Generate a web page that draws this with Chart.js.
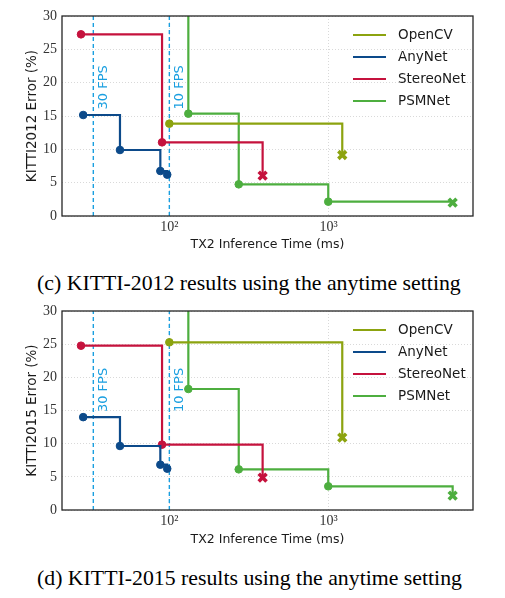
<!DOCTYPE html>
<html>
<head>
<meta charset="utf-8">
<script src="https://cdn.jsdelivr.net/npm/chart.js@4.4.0/dist/chart.umd.min.js"></script>
<style>
  body { margin: 0; width: 505px; height: 598px; background: #fff; position: relative; overflow: hidden; }
  .plot { position: absolute; left: 0; width: 505px; height: 255px; }
  .caption { position: absolute; left: 37px; font-family: "Liberation Serif", serif; font-size: 21.8px; line-height: 22px; color: #000; white-space: nowrap; }
</style>
</head>
<body>
<div class="plot" style="top:0"><canvas id="kitti2012"></canvas></div>
<div class="caption" style="top:272px">(c) KITTI-2012 results using the anytime setting</div>
<div class="plot" style="top:295px"><canvas id="kitti2015"></canvas></div>
<div class="caption" style="top:567px">(d) KITTI-2015 results using the anytime setting</div>
<script>
// Methods and colours (legend order)
const methods = ['OpenCV', 'AnyNet', 'StereoNet', 'PSMNet'];
const colors = ['#8ca30f', '#0c4a8a', '#c5123d', '#4dae3f'];

// TX2 inference time (ms) of every stage, same for both benchmarks
const opencvTime = [100, 1217];
const anynetTime = [28.8, 49, 87.8, 97];
const stereonetTime = [27.9, 90, 385];
const psmnetTime = [131.6, 131.6, 272.6, 994, 6000]; // first stage is above 30 %

// KITTI-2012 error (%)
const opencv2012 = [13.85, 9.15];
const anynet2012 = [15.15, 9.9, 6.75, 6.2];
const stereonet2012 = [27.25, 11.05, 6.05];
const psmnet2012 = [40, 15.35, 4.75, 2.15, 2.0];

// KITTI-2015 error (%)
const opencv2015 = [25.28, 10.9];
const anynet2015 = [14.0, 9.65, 6.83, 6.23];
const stereonet2015 = [24.77, 9.85, 4.87];
const psmnet2015 = [40, 18.24, 6.13, 3.57, 2.16];

// frame-rate reference lines
const fpsTime = [1000 / 30, 1000 / 10];
const fpsText = ['30 FPS', '10 FPS'];
const fpsColor = '#1a9fe0';

// axes
const xTicks = [100, 1000];
const xTickText = ['10²', '10³'];
const xMin = 21.2, xMax = 8050;
const yMin = 0, yMax = 30, yStep = 5;

const times = [opencvTime, anynetTime, stereonetTime, psmnetTime];
const lastIsCross = [true, false, true, true];

function methodDataset(i, errs) {
  const t = times[i];
  const n = t.length;
  const pts = t.map((x, k) => ({ x: x, y: errs[k] }));
  const cross = k => lastIsCross[i] && k === n - 1;
  return {
    label: methods[i],
    data: pts,
    stepped: 'before',
    borderColor: colors[i],
    backgroundColor: colors[i],
    borderWidth: 2.2,
    pointStyle: pts.map((p, k) => cross(k) ? 'crossRot' : 'circle'),
    pointRadius: pts.map((p, k) => p.y > yMax ? 0 : (cross(k) ? 5.5 : 3.8)),
    pointBorderWidth: pts.map((p, k) => cross(k) ? 3.6 : 1),
    pointBackgroundColor: colors[i],
    pointBorderColor: colors[i],
    clip: 0,
    order: 1
  };
}

function fpsDataset(j) {
  return {
    label: fpsText[j],
    data: [{ x: fpsTime[j], y: yMin }, { x: fpsTime[j], y: yMax }],
    borderColor: fpsColor,
    borderWidth: 1.4,
    borderDash: [4, 3],
    pointRadius: 0,
    order: 5
  };
}

// box, legend and FPS labels
const decor = {
  id: 'decor',
  afterDatasetsDraw(chart) {
    const { ctx, scales: { x, y } } = chart;
    const labelY = chart.options.plugins.decor.fpsLabelY;
    ctx.save();
    ctx.fillStyle = fpsColor;
    ctx.font = '13px "DejaVu Sans"';
    ctx.textAlign = 'center';
    ctx.textBaseline = 'middle';
    fpsTime.forEach((t, j) => {
      ctx.save();
      ctx.translate(x.getPixelForValue(t) + 10, y.getPixelForValue(labelY));
      ctx.rotate(-Math.PI / 2);
      ctx.fillText(fpsText[j], 0, 0);
      ctx.restore();
    });
    ctx.restore();
  },
  afterDraw(chart) {
    const { ctx, chartArea: a } = chart;
    ctx.save();
    ctx.strokeStyle = '#262626';
    ctx.lineWidth = 1.3;
    ctx.strokeRect(a.left, a.top, a.right - a.left, a.bottom - a.top);
    ctx.font = '13.5px "DejaVu Sans"';
    ctx.textBaseline = 'middle';
    ctx.textAlign = 'left';
    methods.forEach((m, i) => {
      const ry = a.top + 19 + i * 22;
      ctx.strokeStyle = colors[i];
      ctx.lineWidth = 2.2;
      ctx.beginPath();
      ctx.moveTo(a.right - 120, ry);
      ctx.lineTo(a.right - 87, ry);
      ctx.stroke();
      ctx.fillStyle = '#1a1a1a';
      ctx.fillText(m, a.right - 75, ry);
    });
    ctx.restore();
  }
};

function makeChart(id, errs, yTitle, xHeight, fpsLabelY) {
  const datasets = [0, 1, 2, 3].map(i => methodDataset(i, errs[i]));
  datasets.push(fpsDataset(0), fpsDataset(1));
  return new Chart(document.getElementById(id), {
    type: 'line',
    data: { datasets: datasets },
    options: {
      responsive: true,
      maintainAspectRatio: false,
      animation: false,
      layout: { padding: { top: 16, right: 32, left: 0, bottom: 0 } },
      plugins: {
        legend: { display: false },
        tooltip: { enabled: false },
        decor: { fpsLabelY: fpsLabelY }
      },
      scales: {
        x: {
          type: 'logarithmic',
          min: xMin,
          max: xMax,
          afterBuildTicks: s => { s.ticks = xTicks.map(v => ({ value: v, major: true })); },
          afterFit: s => { s.height = xHeight; },
          ticks: {
            autoSkip: false,
            maxRotation: 0,
            padding: 3,
            color: '#333',
            font: { family: 'Liberation Serif', size: 14 },
            callback: (v, k) => xTickText[k]
          },
          grid: { color: '#cfcfcf', lineWidth: 0.8, drawTicks: false },
          border: { display: false, dash: [1, 2] },
          title: {
            display: true,
            text: 'TX2 Inference Time (ms)',
            color: '#1a1a1a',
            font: { family: 'DejaVu Sans', size: 12.5 },
            padding: { top: 0, bottom: 2.5 }
          }
        },
        y: {
          min: yMin,
          max: yMax,
          afterFit: s => { s.width = 62; },
          ticks: {
            stepSize: yStep,
            padding: 5,
            color: '#333',
            font: { family: 'Liberation Serif', size: 14 }
          },
          grid: { color: '#cfcfcf', lineWidth: 0.8, drawTicks: false },
          border: { display: false, dash: [1, 2] },
          title: {
            display: true,
            text: yTitle,
            color: '#1a1a1a',
            font: { family: 'DejaVu Sans', size: 13.5 },
            padding: { top: 24, bottom: 0 }
          }
        }
      }
    },
    plugins: [decor]
  });
}

makeChart('kitti2012', [opencv2012, anynet2012, stereonet2012, psmnet2012], 'KITTI2012 Error (%)', 39, 19.3);
makeChart('kitti2015', [opencv2015, anynet2015, stereonet2015, psmnet2015], 'KITTI2015 Error (%)', 40, 18.1);
</script>
</body>
</html>
